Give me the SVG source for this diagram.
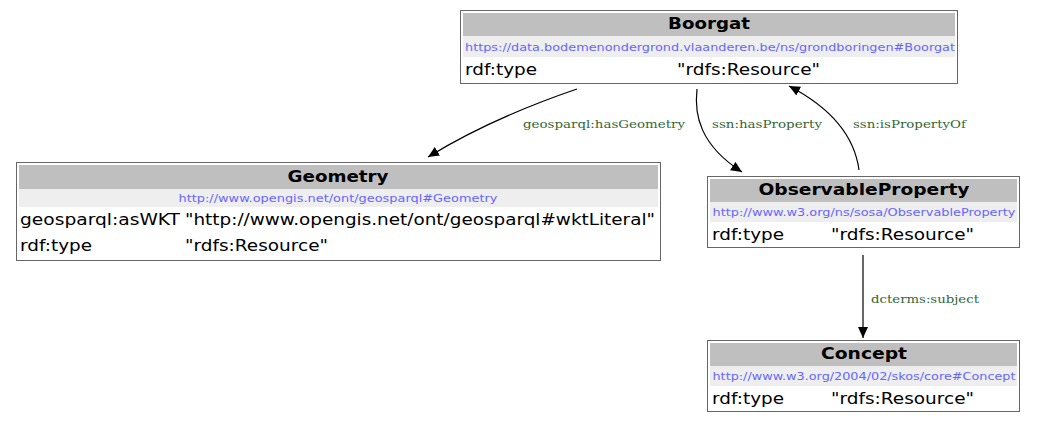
<svg xmlns="http://www.w3.org/2000/svg" width="1037" height="424" viewBox="0 0 1037 424">
<style>
.box{fill:#ffffff;stroke:#666666;stroke-width:1}
.hd{fill:#bfbfbf}
.ur{fill:#eeeeee}
.t{font-family:"DejaVu Sans",sans-serif;font-size:15px;font-weight:bold;fill:#000;text-anchor:middle}
.u{font-family:"DejaVu Sans",sans-serif;font-size:11px;fill:#6666ff;text-anchor:middle}
.r{font-family:"DejaVu Sans",sans-serif;font-size:15px;fill:#000}
.el{font-family:"DejaVu Serif",serif;font-size:11px;fill:#336633}
.e{fill:none;stroke:#000;stroke-width:1.2}
</style>
<defs>
<marker id="ah" markerWidth="12" markerHeight="10" refX="11" refY="5" orient="auto" markerUnits="userSpaceOnUse">
<path d="M0,0 L11,5 L0,10 Z" fill="#000"/>
</marker>
</defs>
<g id="edges">
<path class="e" d="M577,89 C530,105 480,125 428,157" marker-end="url(#ah)"/>
<text class="el" x="523" y="128" textLength="162" lengthAdjust="spacingAndGlyphs">geosparql:hasGeometry</text>
<path class="e" d="M697,89 C694,115 700,145 742,172" marker-end="url(#ah)"/>
<text class="el" x="712" y="128" textLength="110" lengthAdjust="spacingAndGlyphs">ssn:hasProperty</text>
<path class="e" d="M859,170 C855,140 835,110 789,86" marker-end="url(#ah)"/>
<text class="el" x="853" y="128" textLength="113" lengthAdjust="spacingAndGlyphs">ssn:isPropertyOf</text>
<path class="e" d="M863,255 L863,338" marker-end="url(#ah)"/>
<text class="el" x="871" y="303" textLength="108" lengthAdjust="spacingAndGlyphs">dcterms:subject</text>
</g>
<g id="Boorgat">
<rect class="box" x="460.5" y="10.5" width="497" height="73"/>
<rect class="hd" x="463" y="13" width="492" height="23"/>
<rect class="ur" x="463" y="36" width="492" height="21"/>
<text class="t" x="709" y="29" textLength="82" lengthAdjust="spacingAndGlyphs">Boorgat</text>
<text class="u" x="710" y="51" textLength="490" lengthAdjust="spacingAndGlyphs">https://data.bodemenondergrond.vlaanderen.be/ns/grondboringen#Boorgat</text>
<text class="r" x="465" y="75" textLength="72" lengthAdjust="spacingAndGlyphs">rdf:type</text>
<text class="r" x="677" y="75" textLength="143" lengthAdjust="spacingAndGlyphs">"rdfs:Resource"</text>
</g>
<g id="Geometry">
<rect class="box" x="16.5" y="162.5" width="644" height="98"/>
<rect class="hd" x="19" y="165" width="639" height="24"/>
<rect class="ur" x="19" y="189" width="639" height="18"/>
<text class="t" x="338" y="182" textLength="101" lengthAdjust="spacingAndGlyphs">Geometry</text>
<text class="u" x="338" y="202" textLength="319" lengthAdjust="spacingAndGlyphs">http://www.opengis.net/ont/geosparql#Geometry</text>
<text class="r" x="20" y="225" textLength="160" lengthAdjust="spacingAndGlyphs">geosparql:asWKT</text>
<text class="r" x="185" y="225" textLength="470" lengthAdjust="spacingAndGlyphs">"http://www.opengis.net/ont/geosparql#wktLiteral"</text>
<text class="r" x="20" y="251" textLength="72" lengthAdjust="spacingAndGlyphs">rdf:type</text>
<text class="r" x="185" y="251" textLength="143" lengthAdjust="spacingAndGlyphs">"rdfs:Resource"</text>
</g>
<g id="ObservableProperty">
<rect class="box" x="707.5" y="176.5" width="312" height="71"/>
<rect class="hd" x="710" y="179" width="307" height="23"/>
<rect class="ur" x="710" y="202" width="307" height="20"/>
<text class="t" x="864" y="195" textLength="211" lengthAdjust="spacingAndGlyphs">ObservableProperty</text>
<text class="u" x="864" y="216" textLength="303" lengthAdjust="spacingAndGlyphs">http://www.w3.org/ns/sosa/ObservableProperty</text>
<text class="r" x="712" y="240" textLength="72" lengthAdjust="spacingAndGlyphs">rdf:type</text>
<text class="r" x="831" y="240" textLength="143" lengthAdjust="spacingAndGlyphs">"rdfs:Resource"</text>
</g>
<g id="Concept">
<rect class="box" x="707.5" y="340.5" width="312" height="71"/>
<rect class="hd" x="710" y="343" width="307" height="23"/>
<rect class="ur" x="710" y="366" width="307" height="20"/>
<text class="t" x="864" y="359" textLength="86" lengthAdjust="spacingAndGlyphs">Concept</text>
<text class="u" x="864" y="380" textLength="303" lengthAdjust="spacingAndGlyphs">http://www.w3.org/2004/02/skos/core#Concept</text>
<text class="r" x="712" y="404" textLength="72" lengthAdjust="spacingAndGlyphs">rdf:type</text>
<text class="r" x="831" y="404" textLength="143" lengthAdjust="spacingAndGlyphs">"rdfs:Resource"</text>
</g>
</svg>
